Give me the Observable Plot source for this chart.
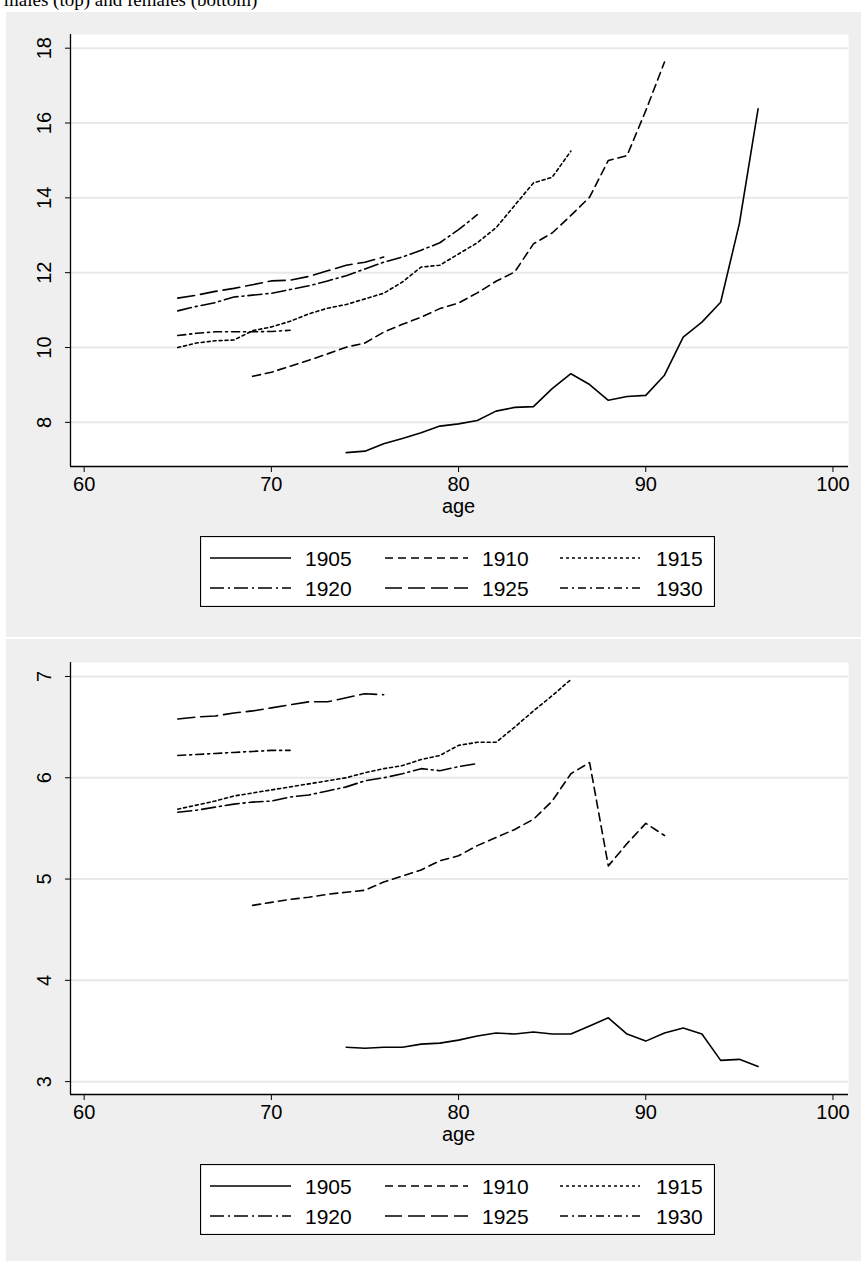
<!DOCTYPE html>
<html>
<head>
<meta charset="utf-8">
<script src="https://cdn.jsdelivr.net/npm/d3@7"></script>
<script src="https://cdn.jsdelivr.net/npm/@observablehq/plot@0.6"></script>
<style>
  body { margin: 0; background: #fff; width: 861px; height: 1261px; position: relative; overflow: hidden; font-family: "Liberation Sans", Arial, sans-serif; }
  .title { position: absolute; left: 4px; top: -11px; font: 19px "Liberation Serif", serif; }
  .panel { position: absolute; left: 6px; width: 855px; background: #efefef; }
  .chart { position: absolute; left: 0; }
  .legend { position: absolute; left: 200px; }
</style>
</head>
<body>
<div class="panel" style="top:12px;height:625px"></div>
<div class="panel" style="top:639px;height:622px"></div>
<div class="title">males (top) and females (bottom)</div>
<div id="top" class="chart" style="top:0px"></div>
<div id="bottom" class="chart" style="top:639px"></div>
<div id="legTop" class="legend" style="top:536px"></div>
<div id="legBottom" class="legend" style="top:1164px"></div>
<script>
// cohorts and their line styles
const cohorts = ["1905", "1910", "1915", "1920", "1925", "1930"];
const dashes = ["none", "8,5", "3,3", "14,4,2,4", "17,6", "8,4,2,4"];
const firstAge = [74, 69, 65, 65, 65, 65];

// males (top panel), one array per cohort, starting at firstAge
const male1905 = [7.19, 7.23, 7.43, 7.57, 7.72, 7.90, 7.96, 8.05, 8.30, 8.40, 8.42, 8.90, 9.30, 9.01, 8.59, 8.69, 8.72, 9.26, 10.28, 10.68, 11.21, 13.31, 16.38];
const male1910 = [9.23, 9.34, 9.50, 9.66, 9.83, 10.01, 10.12, 10.41, 10.62, 10.81, 11.04, 11.19, 11.46, 11.77, 12.02, 12.77, 13.06, 13.53, 14.02, 15.00, 15.13, 16.33, 17.63];
const male1915 = [10.00, 10.12, 10.18, 10.20, 10.45, 10.55, 10.70, 10.90, 11.05, 11.15, 11.30, 11.45, 11.75, 12.15, 12.20, 12.50, 12.80, 13.20, 13.80, 14.40, 14.55, 15.25];
const male1920 = [10.98, 11.10, 11.20, 11.35, 11.40, 11.45, 11.55, 11.65, 11.78, 11.92, 12.10, 12.28, 12.42, 12.60, 12.80, 13.15, 13.55];
const male1925 = [11.32, 11.40, 11.50, 11.58, 11.68, 11.78, 11.80, 11.90, 12.05, 12.20, 12.28, 12.42];
const male1930 = [10.32, 10.38, 10.42, 10.42, 10.42, 10.43, 10.46];

// females (bottom panel)
const female1905 = [3.34, 3.33, 3.34, 3.34, 3.37, 3.38, 3.41, 3.45, 3.48, 3.47, 3.49, 3.47, 3.47, 3.55, 3.63, 3.47, 3.40, 3.48, 3.53, 3.47, 3.21, 3.22, 3.15];
const female1910 = [4.74, 4.77, 4.80, 4.82, 4.85, 4.87, 4.89, 4.97, 5.03, 5.09, 5.18, 5.23, 5.33, 5.41, 5.49, 5.59, 5.77, 6.04, 6.15, 5.13, 5.35, 5.55, 5.43];
const female1915 = [5.69, 5.73, 5.77, 5.82, 5.85, 5.88, 5.91, 5.94, 5.97, 6.00, 6.05, 6.09, 6.12, 6.18, 6.22, 6.32, 6.35, 6.35, 6.50, 6.66, 6.81, 6.97];
const female1920 = [5.66, 5.68, 5.71, 5.74, 5.76, 5.77, 5.81, 5.83, 5.87, 5.91, 5.97, 6.00, 6.04, 6.09, 6.07, 6.11, 6.14];
const female1925 = [6.58, 6.60, 6.61, 6.64, 6.66, 6.69, 6.72, 6.75, 6.75, 6.79, 6.83, 6.82];
const female1930 = [6.22, 6.23, 6.24, 6.25, 6.26, 6.27, 6.27];

const xTicks = [60, 70, 80, 90, 100];
const maleTicks = [8, 10, 12, 14, 16, 18];
const femaleTicks = [3, 4, 5, 6, 7];

function toRows(series) {
  return series.flatMap((vals, i) => vals.map((v, j) => ({cohort: cohorts[i], age: firstAge[i] + j, value: v})));
}

function panel(series, yDomain, yTicks, marginTop) {
  const rows = toRows(series);
  const x0 = 59.27, y0 = yDomain[0];
  return Plot.plot({
    width: 861,
    height: marginTop + 432 + 59,
    marginTop: marginTop,
    marginBottom: 59,
    marginLeft: 70,
    marginRight: 13,
    style: {fontFamily: "Liberation Sans, Arial, sans-serif", background: "transparent", overflow: "visible"},
    x: {type: "linear", domain: [x0, 100.83], label: null},
    y: {type: "linear", domain: yDomain, label: null},
    marks: [
      Plot.frame({fill: "white", stroke: null}),
      Plot.gridY(yTicks, {stroke: "#e8e8e8", strokeOpacity: 1, strokeWidth: 2}),
      ...cohorts.map((c, i) => Plot.line(rows.filter(d => d.cohort === c), {
        x: "age", y: "value", stroke: "black", strokeWidth: 1.6, strokeDasharray: dashes[i]
      })),
      Plot.ruleX([x0], {stroke: "black", strokeWidth: 1.3}),
      Plot.ruleY([y0], {stroke: "black", strokeWidth: 1.3}),
      Plot.axisX(xTicks, {tickSize: 6, tickPadding: 4, fontSize: 20, fill: "black", stroke: "black", label: null}),
      Plot.axisY(yTicks, {tickSize: 5, tickFormat: () => "", stroke: "black", label: null}),
      Plot.text(yTicks, {x: () => x0, y: d => d, text: d => String(d), rotate: -90, dx: -26, lineAnchor: "middle", fontSize: 20, fill: "black"}),
      Plot.text(["age"], {x: () => 80, frameAnchor: "bottom", dy: 46, text: d => d, fontSize: 20, fill: "black"})
    ]
  });
}

function legend() {
  const w = 515, h = 71;
  const svg = d3.create("svg").attr("width", w).attr("height", h);
  svg.append("rect").attr("x", 0.5).attr("y", 0.5).attr("width", w - 1).attr("height", h - 1)
    .attr("fill", "white").attr("stroke", "black").attr("stroke-width", 1.2);
  const cols = [[10, 91, 105], [185, 268, 282], [360, 440, 456]];
  cohorts.forEach((c, i) => {
    const col = cols[i % 3], y = i < 3 ? 22 : 52;
    svg.append("line").attr("x1", col[0]).attr("x2", col[1]).attr("y1", y).attr("y2", y)
      .attr("stroke", "black").attr("stroke-width", 1.6).attr("stroke-dasharray", dashes[i]);
    svg.append("text").attr("x", col[2]).attr("y", y).attr("dy", "0.36em")
      .attr("font-size", 21).attr("font-family", "Liberation Sans, Arial, sans-serif").text(c);
  });
  return svg.node();
}

document.getElementById("top").appendChild(panel([male1905, male1910, male1915, male1920, male1925, male1930], [6.82, 18.366], maleTicks, 34));
document.getElementById("bottom").appendChild(panel([female1905, female1910, female1915, female1920, female1925, female1930], [2.873, 7.138], femaleTicks, 23));
document.getElementById("legTop").appendChild(legend());
document.getElementById("legBottom").appendChild(legend());
</script>
</body>
</html>
